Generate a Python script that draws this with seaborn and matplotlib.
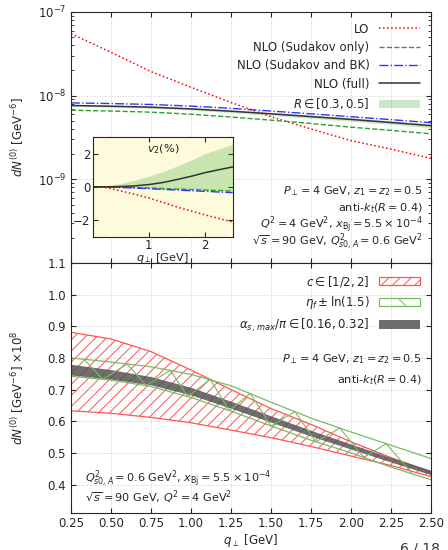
import matplotlib
matplotlib.use("Agg")
import matplotlib.pyplot as plt
from matplotlib.patches import Patch
from matplotlib.lines import Line2D
import seaborn as sns

sns.set_style("ticks")
plt.rcParams["font.family"] = ["DejaVu Sans"]
plt.rcParams["font.size"] = 8.5
plt.rcParams["mathtext.fontset"] = "dejavusans"
plt.rcParams["hatch.linewidth"] = 0.7

# q_perp grid (GeV)
q = [0.25, 0.5, 0.75, 1.0, 1.25, 1.5, 1.75, 2.0, 2.25, 2.5]

# upper panel, dN^(0) [GeV^-6]
lo = [5.5e-8, 3.3e-8, 1.94e-8, 1.26e-8, 8.3e-9, 5.6e-9, 4.0e-9, 2.9e-9, 2.3e-9, 1.78e-9]
nlo_sud = [6.7e-9, 6.55e-9, 6.35e-9, 6.0e-9, 5.55e-9, 5.1e-9, 4.65e-9, 4.2e-9, 3.85e-9, 3.5e-9]
nlo_bk = [8.2e-9, 8.05e-9, 7.85e-9, 7.5e-9, 7.05e-9, 6.55e-9, 6.07e-9, 5.6e-9, 5.17e-9, 4.75e-9]
nlo_full = [7.63e-9, 7.48e-9, 7.28e-9, 6.95e-9, 6.52e-9, 6.07e-9, 5.62e-9, 5.2e-9, 4.78e-9, 4.38e-9]
r_lo = [7.45e-9, 7.28e-9, 7.06e-9, 6.72e-9, 6.28e-9, 5.82e-9, 5.36e-9, 4.94e-9, 4.52e-9, 4.12e-9]
r_hi = [7.8e-9, 7.66e-9, 7.48e-9, 7.16e-9, 6.75e-9, 6.3e-9, 5.86e-9, 5.45e-9, 5.03e-9, 4.62e-9]

# inset, v2 (%)
q_in = [0.0, 0.25, 0.5, 0.75, 1.0, 1.25, 1.5, 1.75, 2.0, 2.25, 2.5]
v2_lo = [0, -0.05, -0.25, -0.45, -0.67, -0.93, -1.21, -1.45, -1.68, -1.9, -2.12]
v2_sud = [0, 0, -0.02, -0.04, -0.07, -0.1, -0.13, -0.16, -0.19, -0.22, -0.25]
v2_bk = [0, -0.01, -0.04, -0.07, -0.11, -0.15, -0.19, -0.23, -0.27, -0.31, -0.35]
v2_full = [0, 0.005, 0.02, 0.06, 0.14, 0.26, 0.44, 0.63, 0.85, 1.03, 1.2]
v2_r_lo = [0, -0.01, -0.03, -0.05, -0.08, -0.11, -0.14, -0.17, -0.2, -0.23, -0.27]
v2_r_hi = [0, 0.05, 0.2, 0.4, 0.64, 0.92, 1.25, 1.6, 2.0, 2.28, 2.56]

# lower panel, dN^(0) x 1e8
c_lo = [0.633, 0.625, 0.612, 0.595, 0.572, 0.548, 0.52, 0.49, 0.46, 0.425]
c_hi = [0.881, 0.86, 0.82, 0.762, 0.70, 0.64, 0.59, 0.535, 0.485, 0.44]
eta_lo = [0.742, 0.73, 0.71, 0.675, 0.632, 0.585, 0.54, 0.5, 0.455, 0.415]
eta_hi = [0.80, 0.787, 0.772, 0.748, 0.712, 0.66, 0.61, 0.566, 0.524, 0.482]
q_zig = [0.33, 0.45, 0.60, 0.72, 0.87, 0.98, 1.12, 1.24, 1.37, 1.50, 1.65, 1.78, 1.93, 2.08, 2.22, 2.38]
eta_zig = [0.796, 0.732, 0.781, 0.713, 0.761, 0.678, 0.732, 0.634, 0.688, 0.585, 0.63, 0.535, 0.578, 0.486, 0.529, 0.436]
as_lo = [0.746, 0.733, 0.715, 0.683, 0.641, 0.597, 0.553, 0.512, 0.471, 0.431]
as_hi = [0.780, 0.763, 0.741, 0.707, 0.663, 0.617, 0.571, 0.528, 0.485, 0.445]

xticks = [0.25, 0.5, 0.75, 1.0, 1.25, 1.5, 1.75, 2.0, 2.25, 2.5]

fig = plt.figure(figsize=(4.48, 5.5), dpi=100)
ax1 = fig.add_axes([0.1585, 0.5218, 0.8035, 0.4564])
ax2 = fig.add_axes([0.1585, 0.0673, 0.8035, 0.4545], sharex=ax1)

grid_kw = dict(color="#cccccc", linestyle=":", linewidth=0.7)
red_c = "#ff5555"
grn_c = "#77bb66"

# ---- upper panel
ax1.fill_between(q, r_lo, r_hi, color="#2ca02c", alpha=0.25, linewidth=0)
sns.lineplot(x=q, y=lo, ax=ax1, color="red", linestyle=":", linewidth=1.1)
sns.lineplot(x=q, y=nlo_sud, ax=ax1, color="#2ca02c", linestyle="--", linewidth=1.0)
sns.lineplot(x=q, y=nlo_bk, ax=ax1, color="#3333ff", linestyle="-.", linewidth=1.0)
sns.lineplot(x=q, y=nlo_full, ax=ax1, color="#333333", linestyle="-", linewidth=1.1)
ax1.set_yscale("log")
ax1.set_ylim(1e-10, 1e-7)
ax1.set_yticks([1e-9, 1e-8, 1e-7])
ax1.set_xlim(0.25, 2.5)
ax1.set_xticks(xticks)
ax1.tick_params(labelbottom=False)
ax1.grid(True, which="major", **grid_kw)
ax1.set_ylabel(r"$dN^{(0)}$ [GeV$^{-6}$]")

h1 = [
    Line2D([], [], color="red", linestyle=":", linewidth=1.1),
    Line2D([], [], color="#2ca02c", linestyle="--", linewidth=1.0),
    Line2D([], [], color="#3333ff", linestyle="-.", linewidth=1.0),
    Line2D([], [], color="#333333", linewidth=1.1),
    Patch(facecolor="#2ca02c", alpha=0.25, linewidth=0),
]
l1 = ["LO", "NLO (Sudakov only)", "NLO (Sudakov and BK)", "NLO (full)", r"$R \in [0.3, 0.5]$"]
ax1.legend(h1, l1, loc="upper right", frameon=False, markerfirst=False,
           handlelength=3.5, labelspacing=0.45)

t_kw = dict(transform=ax1.transAxes, ha="right", va="center", fontsize=8.1)
ax1.text(0.978, 0.288, r"$P_\perp = 4$ GeV, $z_1 = z_2 = 0.5$", **t_kw)
ax1.text(0.978, 0.218, r"anti-$k_t(R = 0.4)$", **t_kw)
ax1.text(0.978, 0.152, r"$Q^2 = 4$ GeV$^2$, $x_{\rm Bj} = 5.5 \times 10^{-4}$", **t_kw)
ax1.text(0.978, 0.084, r"$\sqrt{s} = 90$ GeV, $Q^2_{s0,A} = 0.6$ GeV$^2$", **t_kw)

# ---- inset
axi = fig.add_axes([0.2076, 0.5696, 0.3118, 0.1813])
axi.set_facecolor("#fdfbdc")
axi.fill_between(q_in, v2_r_lo, v2_r_hi, color="#2ca02c", alpha=0.25, linewidth=0)
sns.lineplot(x=q_in, y=v2_lo, ax=axi, color="red", linestyle=":", linewidth=1.1)
sns.lineplot(x=q_in, y=v2_sud, ax=axi, color="#2ca02c", linestyle="--", linewidth=1.0)
sns.lineplot(x=q_in, y=v2_bk, ax=axi, color="#3333ff", linestyle="-.", linewidth=1.0)
sns.lineplot(x=q_in, y=v2_full, ax=axi, color="#333333", linewidth=1.1)
axi.set_xlim(0, 2.5)
axi.set_ylim(-3, 3)
axi.set_xticks([1, 2])
axi.set_yticks([-2, 0, 2])
axi.set_xlabel(r"$q_\perp$ [GeV]", labelpad=-1, fontsize=8.1)
axi.text(0.5, 0.88, r"$v_2(\%)$", transform=axi.transAxes, ha="center", va="center",
         fontsize=8.1)

# ---- lower panel
ax2.fill_between(q, c_lo, c_hi, facecolor="none", edgecolor=red_c,
                 hatch="///", linewidth=0.9)
sns.lineplot(x=q, y=eta_hi, ax=ax2, color=grn_c, linewidth=0.9)
sns.lineplot(x=q, y=eta_lo, ax=ax2, color=grn_c, linewidth=0.9)
sns.lineplot(x=q_zig, y=eta_zig, ax=ax2, color=grn_c, linewidth=0.8)
ax2.fill_between(q, as_lo, as_hi, color="#555555", alpha=0.85, linewidth=0)
ax2.set_ylim(0.31, 1.1)
ax2.set_yticks([0.4, 0.5, 0.6, 0.7, 0.8, 0.9, 1.0, 1.1])
ax2.set_xlim(0.25, 2.5)
ax2.set_xticks(xticks)
ax2.set_xticklabels(["0.25", "0.50", "0.75", "1.00", "1.25", "1.50", "1.75", "2.00", "2.25", "2.50"])
ax2.grid(True, **grid_kw)
ax2.set_xlabel(r"$q_\perp$ [GeV]", labelpad=1)
ax2.set_ylabel(r"$dN^{(0)}$ [GeV$^{-6}$] $\times 10^8$")

h2 = [
    Patch(facecolor="none", edgecolor=red_c, hatch="///", linewidth=0.9),
    Patch(facecolor="none", edgecolor=grn_c, hatch="\\", linewidth=0.9),
    Patch(facecolor="#555555", alpha=0.85, linewidth=0),
]
l2 = [r"$c \in [1/2, 2]$", r"$\eta_f \pm \ln(1.5)$", r"$\alpha_{s,\,max}/\pi \in [0.16, 0.32]$"]
ax2.legend(h2, l2, loc="upper right", frameon=False, markerfirst=False,
           handlelength=3.5, labelspacing=0.45)

t2 = dict(transform=ax2.transAxes, va="center", fontsize=8.1)
ax2.text(0.974, 0.615, r"$P_\perp = 4$ GeV, $z_1 = z_2 = 0.5$", ha="right", **t2)
ax2.text(0.974, 0.532, r"anti-$k_t(R = 0.4)$", ha="right", **t2)
ax2.text(0.039, 0.137, r"$Q^2_{s0,A} = 0.6$ GeV$^2$, $x_{\rm Bj} = 5.5 \times 10^{-4}$", ha="left", **t2)
ax2.text(0.039, 0.063, r"$\sqrt{s} = 90$ GeV, $Q^2 = 4$ GeV$^2$", ha="left", **t2)

for a in (ax1, ax2, axi):
    a.tick_params(direction="in", top=True, right=True, which="both")
    a.set_axisbelow(True)
axi.tick_params(pad=2)
ax2.tick_params(axis="x", pad=3)
for a in (ax1, ax2):
    a.yaxis.set_label_coords(-0.125, 0.5)

fig.text(0.893, 0.016, "6 / 18", ha="left", va="top", fontsize=10, color="#333333")

fig.savefig("out.png", dpi=100)
